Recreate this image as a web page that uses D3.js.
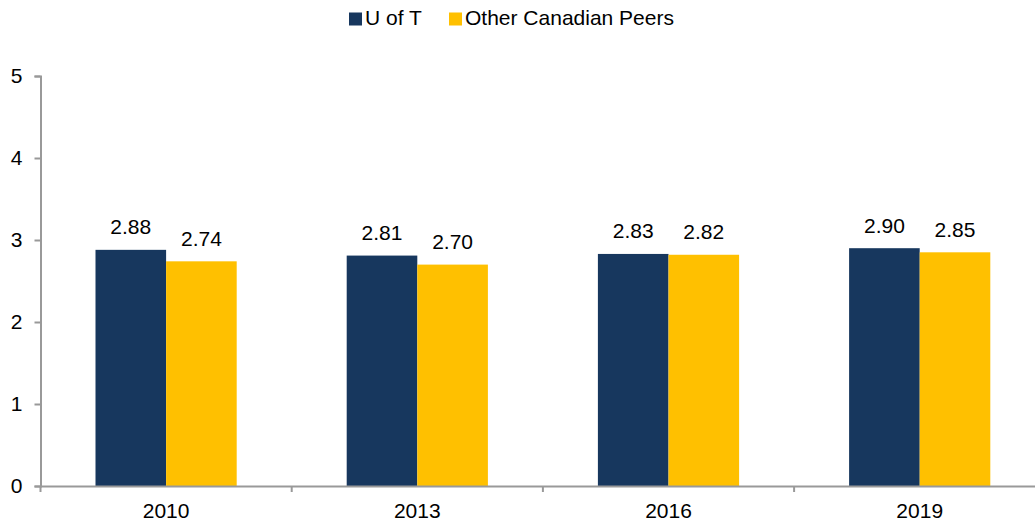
<!DOCTYPE html>
<html>
<head>
<meta charset="utf-8">
<script src="https://cdn.jsdelivr.net/npm/d3@7"></script>
<style>
  body { margin: 0; background: #fff; }
  text { font-family: "Liberation Sans", Arial, sans-serif; fill: #000; }
  .axis path, .axis line { stroke: #999; }
</style>
</head>
<body>
<svg id="chart" width="1035" height="522"></svg>
<script>
// data
const years = ["2010", "2013", "2016", "2019"];
const seriesNames = ["U of T", "Other Canadian Peers"];
const uoft = [2.88, 2.81, 2.83, 2.90];
const peers = [2.74, 2.70, 2.82, 2.85];
const yTicks = [0, 1, 2, 3, 4, 5];
const colors = ["#17375e", "#ffc000"];

const svg = d3.select("#chart");

const plotLeft = 40.5, bandW = 251.2,
      plotTop = 76, plotBottom = 486,
      fontSize = "21px";

const x = d3.scaleBand()
    .domain(years)
    .range([plotLeft, plotLeft + bandW * years.length])
    .paddingInner(0).paddingOuter(0);

// two bars fill the middle of each band
const xSub = d3.scaleBand()
    .domain(seriesNames)
    .range([55, bandW - 55]);

const y = d3.scaleLinear()
    .domain([0, 5])
    .range([plotBottom, plotTop]);

const rows = years.map((yr, i) => ({year: yr, values: [uoft[i], peers[i]]}));

// bars
const groups = svg.append("g").selectAll(".grp")
    .data(rows)
    .enter().append("g")
    .attr("class", "grp")
    .attr("transform", d => `translate(${x(d.year)},0)`);

groups.selectAll("rect")
    .data(d => d.values.map((v, j) => ({name: seriesNames[j], value: v, idx: j})))
    .enter().append("rect")
    .attr("x", d => xSub(d.name))
    .attr("y", d => y(d.value))
    .attr("width", xSub.bandwidth())
    .attr("height", d => y(0) - y(d.value))
    .attr("fill", d => colors[d.idx]);

groups.selectAll(".lbl")
    .data(d => d.values.map((v, j) => ({name: seriesNames[j], value: v})))
    .enter().append("text")
    .attr("class", "lbl")
    .attr("x", d => xSub(d.name) + xSub.bandwidth() / 2)
    .attr("y", d => y(d.value) - 15.5)
    .attr("text-anchor", "middle")
    .style("font-size", fontSize)
    .text(d => d3.format(".2f")(d.value));

// y axis
const yAxis = svg.append("g")
    .attr("class", "axis")
    .attr("transform", `translate(${plotLeft},0)`)
    .call(d3.axisLeft(y).tickValues(yTicks).tickSize(6).tickSizeOuter(6).tickPadding(12).tickFormat(d3.format("d")));
yAxis.selectAll("path, line").attr("stroke-width", 2);
yAxis.selectAll("text").style("font-size", fontSize).attr("fill", "#000");

// x axis, labels centred, ticks at band edges
const xAxis = svg.append("g")
    .attr("class", "axis")
    .attr("transform", `translate(0,${plotBottom})`)
    .call(d3.axisBottom(x).tickSize(0).tickSizeOuter(0).tickPadding(17));
xAxis.select("path").attr("stroke-width", 2);
xAxis.selectAll("text").style("font-size", fontSize).attr("fill", "#000");
xAxis.selectAll(".edge")
    .data(years)
    .enter().append("line")
    .attr("class", "edge")
    .attr("x1", d => x(d)).attr("x2", d => x(d))
    .attr("y1", 0).attr("y2", 6)
    .attr("stroke", "#999").attr("stroke-width", 2);

// legend
const legendX = [349, 449];
const legend = svg.append("g").selectAll(".leg")
    .data(seriesNames)
    .enter().append("g")
    .attr("transform", (d, i) => `translate(${legendX[i]},12.5)`);
legend.append("rect")
    .attr("width", 13).attr("height", 13)
    .attr("fill", (d, i) => colors[i]);
legend.append("text")
    .attr("x", 16).attr("y", 12.5)
    .style("font-size", fontSize)
    .text(d => d);
</script>
</body>
</html>
